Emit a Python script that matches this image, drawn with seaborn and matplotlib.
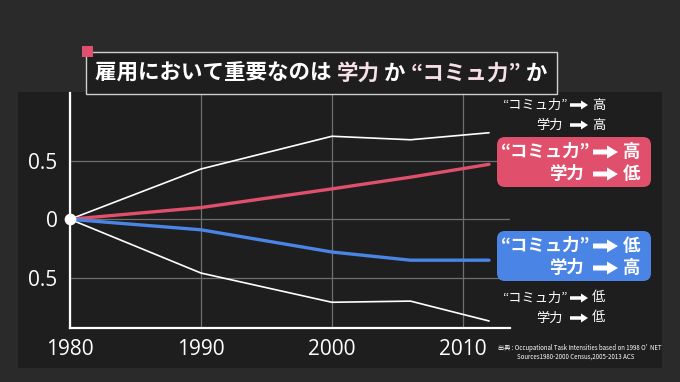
import matplotlib
matplotlib.use("Agg")
import matplotlib.pyplot as plt
import matplotlib.patches as mpatches
import seaborn as sns
import pandas as pd

# ---- data ----
years = [1980, 1990, 2000, 2006, 2012]
both_high = [0.0, 0.43, 0.71, 0.68, 0.74]     # コミュ力 高 / 学力 高
comm_high = [0.0, 0.10, 0.26, 0.36, 0.47]     # コミュ力 高 / 学力 低
comm_low = [0.0, -0.09, -0.28, -0.35, -0.35]  # コミュ力 低 / 学力 高
both_low = [0.0, -0.46, -0.71, -0.70, -0.87]  # コミュ力 低 / 学力 低
x_ticks = [1980, 1990, 2000, 2010]
x_tick_labels = ["1980", "1990", "2000", "2010"]
y_ticks = [-0.5, 0, 0.5]
y_tick_labels = ["0.5", "0", "0.5"]

OUTER = "#2a2a2a"
PANEL = "#1e1e1e"
RED = "#e0506c"
BLUE = "#4a85e6"
PINK_TXT = "#f6dfe6"
GRID = "#6e6e6e"

sns.set_theme(style="dark")
JP = ["Noto Sans CJK JP", "DejaVu Sans"]
plt.rcParams["font.family"] = JP

W, H = 680, 382
fig = plt.figure(figsize=(W / 100, H / 100), dpi=100, facecolor=OUTER)

def fx(px):
    return px / W

def fy(py):
    return 1 - py / H

# background panel
bg = fig.add_axes([0, 0, 1, 1], zorder=0)
bg.set_xlim(0, W)
bg.set_ylim(H, 0)
bg.axis("off")
bg.add_patch(mpatches.Rectangle((18, 92), 644, 276, facecolor=PANEL, edgecolor="none"))

# main axes
ax_l, ax_r, ax_t, ax_b = 70, 510, 93, 328
ax = fig.add_axes([fx(ax_l), fy(ax_b), fx(ax_r - ax_l), (ax_b - ax_t) / H], zorder=1)
ax.set_facecolor("none")

df = pd.DataFrame({
    "year": years * 4,
    "value": both_high + comm_high + comm_low + both_low,
    "series": ["both_high"] * 5 + ["comm_high"] * 5 + ["comm_low"] * 5 + ["both_low"] * 5,
})

for name, color, lw in [("both_high", "white", 1.2), ("both_low", "white", 1.2),
                        ("comm_high", RED, 2.4), ("comm_low", BLUE, 2.4)]:
    sns.lineplot(data=df[df.series == name], x="year", y="value", color=color,
                 linewidth=lw, ax=ax, legend=False, zorder=3)

ax.scatter([years[0]], [0], s=55, color="white", zorder=5, clip_on=False)

ax.set_xlim(1980, 2013.6)
ax.set_ylim(-0.93, 1.08)
ax.set_xticks(x_ticks)
ax.set_xticklabels(x_tick_labels)
ax.set_yticks(y_ticks)
ax.set_yticklabels(y_tick_labels)
ax.set_xlabel("")
ax.set_ylabel("")
ax.tick_params(axis="both", length=0, colors="white", labelsize=15)
ax.tick_params(axis="x", pad=8)
ax.tick_params(axis="y", pad=9)
for lab in ax.get_xticklabels() + ax.get_yticklabels():
    lab.set_fontfamily(["Open Sans", "DejaVu Sans"])
ax.grid(True, color=GRID, linewidth=0.9)
ax.grid(True, axis="x", color=GRID, linewidth=0.9)
for s in ["top", "right"]:
    ax.spines[s].set_visible(False)
for s in ["left", "bottom"]:
    ax.spines[s].set_visible(True)
    ax.spines[s].set_color("white")
    ax.spines[s].set_linewidth(1.6)

# overlay for annotations
ov = fig.add_axes([0, 0, 1, 1], zorder=2)
ov.set_xlim(0, W)
ov.set_ylim(H, 0)
ov.axis("off")
ov.patch.set_alpha(0)

# title box
ov.add_patch(mpatches.Rectangle((86, 52), 471, 42, facecolor=PANEL, edgecolor="#cfcfcf", linewidth=1.0))
ov.add_patch(mpatches.Rectangle((82, 46), 11, 11, facecolor=RED, edgecolor="none"))

renderer = fig.canvas.get_renderer()
pieces = [("雇用において重要なのは ", "white"), ("学力", PINK_TXT), (" か ", "white"),
          ("“コミュ力”", PINK_TXT), (" か", "white")]
x = 95
for txt, col in pieces:
    t = ov.text(x, 73, txt, color=col, fontsize=15.5, fontweight="bold",
                ha="left", va="center", family=JP)
    bb = t.get_window_extent(renderer=renderer)
    x += bb.width

# legend boxes
for (y0, col) in [(137, RED), (231, BLUE)]:
    ov.add_patch(mpatches.FancyBboxPatch((497, y0), 154, 50,
                 boxstyle="round,pad=0,rounding_size=8", facecolor=col, edgecolor="none"))

def arrow(xs, y, length, body, head_w, head_l):
    ov.add_patch(mpatches.FancyArrow(xs, y, length, 0, width=body, head_width=head_w,
                 head_length=head_l, length_includes_head=True, color="white", linewidth=0))

def label_pair(y1, y2, v1, v2, big):
    if big:
        fs, lab_r1, lab_r2, ax0, alen, vx = 12.5, 590, 584, 593, 25, 623
        aw = (5, 13, 11)
    else:
        fs, lab_r1, lab_r2, ax0, alen, vx = 9.5, 568, 563, 570, 18, 592
        aw = (3.5, 9, 7)
    wt = "bold" if big else "normal"
    for y, lab, v, lr in [(y1, "“コミュ力”", v1, lab_r1), (y2, "学力", v2, lab_r2)]:
        ov.text(lr, y, lab, color="white", fontsize=fs, fontweight=wt,
                ha="right", va="center", family=JP)
        arrow(ax0, y, alen, *aw)
        ov.text(vx, y, v, color="white", fontsize=fs, fontweight=wt,
                ha="left", va="center", family=JP)

label_pair(105, 125, "高", "高", False)
label_pair(152, 174, "高", "低", True)
label_pair(246, 268, "低", "高", True)
label_pair(298, 318, "低", "低", False)

ov.text(580, 348, "出典 : Occupational Task Intensities based on 1998 O'  NET",
        color="white", fontsize=4.4, ha="center", va="center", family=JP)
ov.text(576, 356.5, "Sources1980-2000 Census,2005-2013 ACS",
        color="white", fontsize=4.4, ha="center", va="center", family=JP)

fig.savefig("out.png", dpi=100, facecolor=OUTER)
